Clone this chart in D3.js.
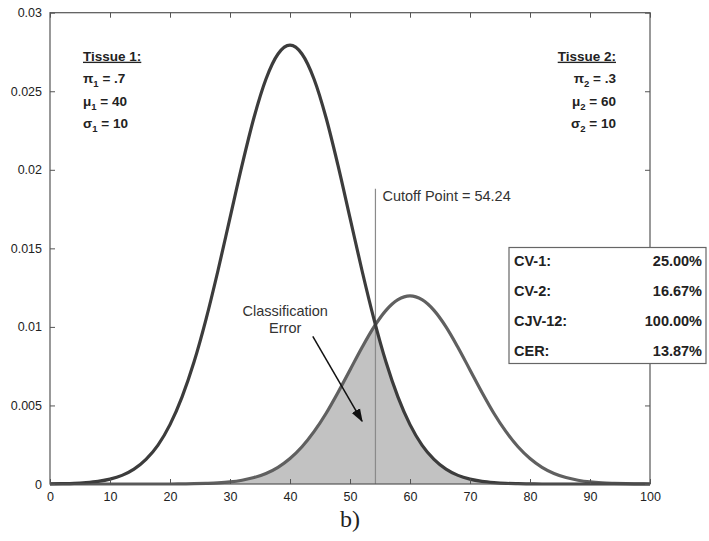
<!DOCTYPE html>
<html>
<head>
<meta charset="utf-8">
<script src="https://cdn.jsdelivr.net/npm/d3@7"></script>
<style>
  body { margin: 0; background: #fff; }
</style>
</head>
<body>
<div id="chart"></div>
<script>
var xs = d3.range(0, 101, 2);
// Tissue 1 density (weighted), read at each x
var tissue1 = [0.00001, 0.00002, 0.00004, 0.00009, 0.00017, 0.00031, 0.00055, 0.00095, 0.00157, 0.00248,
  0.00378, 0.00553, 0.00776, 0.01048, 0.01359, 0.01694, 0.02028, 0.02333, 0.02578, 0.02737,
  0.02793, 0.02737, 0.02578, 0.02333, 0.02028, 0.01694, 0.01359, 0.01048, 0.00776, 0.00553,
  0.00378, 0.00248, 0.00157, 0.00095, 0.00055, 0.00031, 0.00017, 0.00009, 0.00004, 0.00002,
  0.00001, 0, 0, 0, 0, 0, 0, 0, 0, 0, 0];
// Tissue 2 density (weighted)
var tissue2 = [0, 0, 0, 0, 0, 0, 0, 0, 0, 0,
  0, 0.00001, 0.00002, 0.00004, 0.00007, 0.00013, 0.00024, 0.00041, 0.00067, 0.00106,
  0.00162, 0.00237, 0.00333, 0.00449, 0.00583, 0.00726, 0.00869, 0.01000, 0.01105, 0.01173,
  0.01197, 0.01173, 0.01105, 0.01000, 0.00869, 0.00726, 0.00583, 0.00449, 0.00333, 0.00237,
  0.00162, 0.00106, 0.00067, 0.00041, 0.00024, 0.00013, 0.00007, 0.00004, 0.00002, 0.00001, 0];

var cutoff = 54.24;
var cutoffTop = 0.0188;
var xTicks = [0, 10, 20, 30, 40, 50, 60, 70, 80, 90, 100];
var yTicks = [0, 0.005, 0.01, 0.015, 0.02, 0.025, 0.03];

var tissue1Lines = ["Tissue 1:", "π|1| = .7", "μ|1| = 40", "σ|1| = 10"];
var tissue2Lines = ["Tissue 2:", "π|2| = .3", "μ|2| = 60", "σ|2| = 10"];
var statNames = ["CV-1:", "CV-2:", "CJV-12:", "CER:"];
var statValues = ["25.00%", "16.67%", "100.00%", "13.87%"];

var sans = "'Liberation Sans', Arial, sans-serif";
var serif = "'Liberation Serif', 'Times New Roman', serif";

var W = 709, H = 541;
var margin = {top: 12.7, left: 50, right: 59, bottom: 57};
var width = W - margin.left - margin.right;
var height = H - margin.top - margin.bottom;

var svgRoot = d3.select("#chart").append("svg")
  .attr("width", W).attr("height", H)
  .style("font-family", sans);
var svg = svgRoot.append("g")
  .attr("transform", "translate(" + margin.left + "," + margin.top + ")");

var x = d3.scaleLinear().domain([0, 100]).range([0, width]);
var y = d3.scaleLinear().domain([0, 0.03]).range([height, 0]);

var pts1 = xs.map(function(d, i) { return [d, tissue1[i]]; });
var pts2 = xs.map(function(d, i) { return [d, tissue2[i]]; });

// clip regions either side of the cutoff
var defs = svgRoot.append("defs");
defs.append("clipPath").attr("id", "leftClip").append("rect")
  .attr("x", 0).attr("y", 0).attr("width", x(cutoff)).attr("height", height);
defs.append("clipPath").attr("id", "rightClip").append("rect")
  .attr("x", x(cutoff)).attr("y", 0).attr("width", width - x(cutoff)).attr("height", height);

var area = d3.area()
  .x(function(d) { return x(d[0]); })
  .y0(height)
  .y1(function(d) { return y(d[1]); })
  .curve(d3.curveMonotoneX);

svg.append("path").attr("d", area(pts2)).attr("fill", "#c2c2c2").attr("clip-path", "url(#leftClip)");
svg.append("path").attr("d", area(pts1)).attr("fill", "#c2c2c2").attr("clip-path", "url(#rightClip)");

// cutoff line
svg.append("line")
  .attr("x1", x(cutoff)).attr("x2", x(cutoff))
  .attr("y1", y(0)).attr("y2", y(cutoffTop))
  .attr("stroke", "#8a8a8a").attr("stroke-width", 1.2);
svg.append("text")
  .attr("x", x(cutoff) + 7).attr("y", y(cutoffTop) + 12)
  .attr("font-size", 14.5).attr("fill", "#333")
  .text("Cutoff Point = " + cutoff.toFixed(2));

var line = d3.line()
  .x(function(d) { return x(d[0]); })
  .y(function(d) { return y(d[1]); })
  .curve(d3.curveMonotoneX);

svg.append("path").attr("d", line(pts2)).attr("fill", "none")
  .attr("stroke", "#606060").attr("stroke-width", 3.2);
svg.append("path").attr("d", line(pts1)).attr("fill", "none")
  .attr("stroke", "#3c3c3c").attr("stroke-width", 3.2);

// axes box with inward ticks on all sides
var axisColor = "#555";
svg.append("rect").attr("width", width).attr("height", height)
  .attr("fill", "none").attr("stroke", axisColor).attr("stroke-width", 1.2);

var xAxis = svg.append("g").attr("transform", "translate(0," + height + ")")
  .call(d3.axisBottom(x).tickValues(xTicks).tickSize(-5).tickPadding(8).tickFormat(d3.format("d")));
var xTop = svg.append("g")
  .call(d3.axisTop(x).tickValues(xTicks).tickSize(-5).tickFormat(""));
var yAxis = svg.append("g")
  .call(d3.axisLeft(y).tickValues(yTicks).tickSize(-5).tickPadding(8).tickFormat(function(d) { return d3.format("")(+d.toFixed(3)); }));
var yRight = svg.append("g").attr("transform", "translate(" + width + ",0)")
  .call(d3.axisRight(y).tickValues(yTicks).tickSize(-5).tickFormat(""));

[xAxis, xTop, yAxis, yRight].forEach(function(g) {
  g.attr("font-family", sans);
  g.select(".domain").remove();
  g.selectAll(".tick line").attr("stroke", axisColor);
  g.selectAll(".tick text").attr("font-size", 12.5).attr("fill", "#222");
});

// parameter blocks; "|n|" marks a subscript
function paramBlock(lines, px, anchor) {
  var g = svg.append("g").attr("font-size", 13.5).attr("font-weight", "bold").attr("fill", "#222");
  lines.forEach(function(s, i) {
    var t = g.append("text").attr("x", px).attr("y", 48 + i * 22.5).attr("text-anchor", anchor);
    if (i == 0) {
      t.attr("text-decoration", "underline").text(s);
    } else {
      var parts = s.split("|");
      t.append("tspan").text(parts[0]);
      t.append("tspan").attr("font-size", 9.5).attr("dy", 4).text(parts[1]);
      t.append("tspan").attr("dy", -4).text(parts[2]);
    }
  });
}
paramBlock(tissue1Lines, 33, "start");
paramBlock(tissue2Lines, 566, "end");

// classification error label + arrow
defs.append("marker").attr("id", "arrow")
  .attr("viewBox", "0 0 10 10").attr("refX", 9).attr("refY", 5)
  .attr("markerWidth", 9).attr("markerHeight", 9).attr("orient", "auto")
  .append("path").attr("d", "M0,1.5 L10,5 L0,8.5 Z").attr("fill", "#111");

var ce = svg.append("g").attr("font-size", 14.5).attr("fill", "#333").attr("text-anchor", "middle");
ce.append("text").attr("x", x(39.2)).attr("y", y(0.0107)).text("Classification");
ce.append("text").attr("x", x(39.2)).attr("y", y(0.0096)).text("Error");
svg.append("line")
  .attr("x1", x(43.8)).attr("y1", y(0.0094))
  .attr("x2", x(52)).attr("y2", y(0.0040))
  .attr("stroke", "#111").attr("stroke-width", 1.5)
  .attr("marker-end", "url(#arrow)");

// stats box (hangs past the right edge of the axes)
var bx = 509 - margin.left, by = 247.5 - margin.top;
svg.append("rect").attr("x", bx).attr("y", by).attr("width", 197).attr("height", 116)
  .attr("fill", "#fff").attr("stroke", "#666").attr("stroke-width", 1.2);
var sb = svg.append("g").attr("font-size", 14.5).attr("font-weight", "bold").attr("fill", "#222");
statNames.forEach(function(n, i) {
  sb.append("text").attr("x", bx + 5).attr("y", by + 19 + i * 30).text(n);
  sb.append("text").attr("x", bx + 193).attr("y", by + 19 + i * 30).attr("text-anchor", "end").text(statValues[i]);
});

// panel label
svgRoot.append("text").attr("x", 350).attr("y", 527).attr("text-anchor", "middle")
  .style("font-family", serif)
  .attr("font-size", 24).attr("fill", "#222").text("b)");
</script>
</body>
</html>
